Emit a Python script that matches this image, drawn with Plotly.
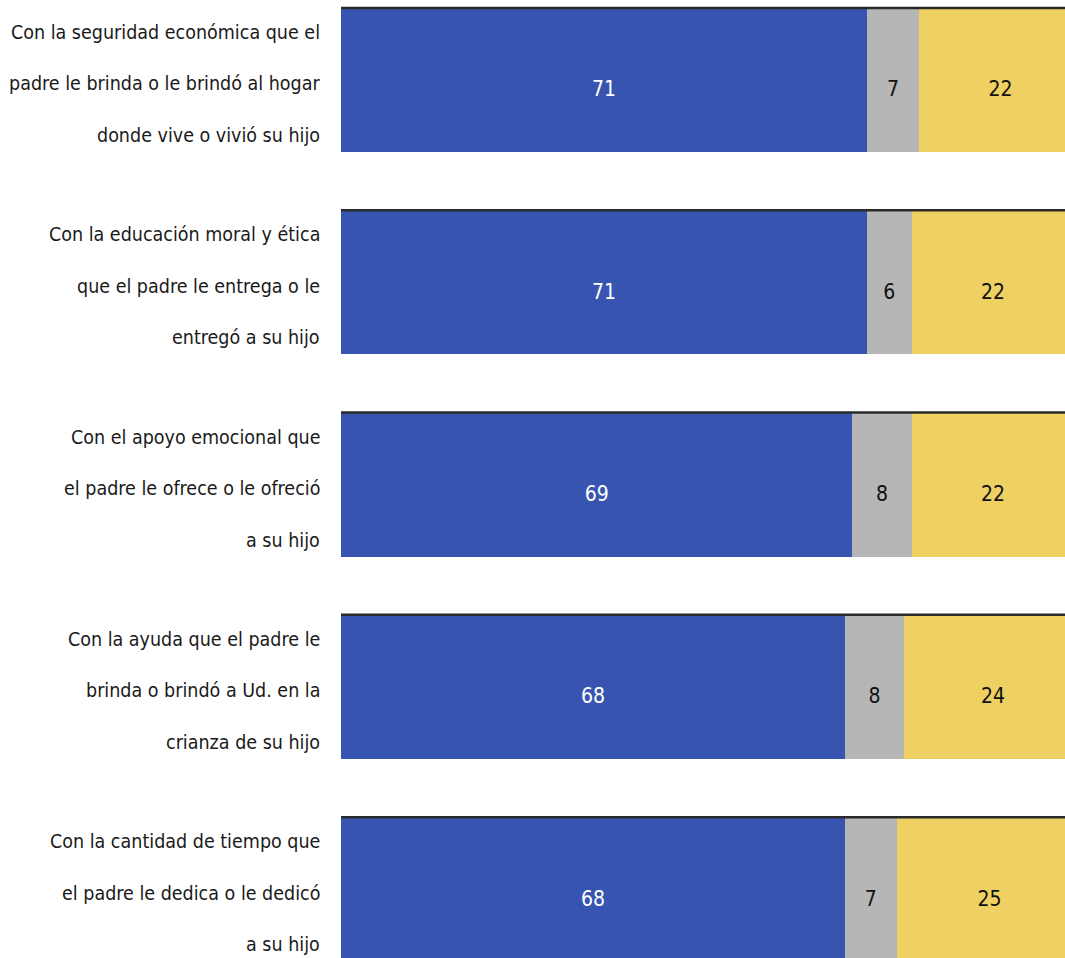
import plotly.graph_objects as go

# Survey items (top to bottom) and the share of answers per group
items = [
    ["Con la seguridad económica que el", "padre le brinda o le brindó al hogar", "donde vive o vivió su hijo"],
    ["Con la educación moral y ética", "que el padre le entrega o le", "entregó a su hijo"],
    ["Con el apoyo emocional que", "el padre le ofrece o le ofreció", "a su hijo"],
    ["Con la ayuda que el padre le", "brinda o brindó a Ud. en la", "crianza de su hijo"],
    ["Con la cantidad de tiempo que", "el padre le dedica o le dedicó", "a su hijo"],
]
satisfied = [71, 71, 69, 68, 68]
no_answer = [7, 6, 8, 8, 7]
unsatisfied = [22, 22, 22, 24, 25]

FONT = "DejaVu Sans Condensed, Liberation Sans Narrow, Arial Narrow, sans-serif"
BAR_WIDTH = 0.712
TEXT_DROP = 0.055   # value labels sit slightly below the bar centre
pos = list(range(len(items)))

fig = go.Figure()
series = [
    (satisfied, "#3755B0", "white"),
    (no_answer, "#B6B6B6", "#111111"),
    (unsatisfied, "#EED063", "#111111"),
]
base = [0] * len(pos)
for vals, color, tcolor in series:
    fig.add_trace(go.Bar(
        x=vals, y=pos, orientation="h", width=BAR_WIDTH,
        marker=dict(color=color, line=dict(width=0)),
        hoverinfo="skip", showlegend=False,
    ))
    # value label centred on the segment
    fig.add_trace(go.Scatter(
        x=[b + v / 2 for b, v in zip(base, vals)],
        y=[p + TEXT_DROP for p in pos],
        mode="text", text=[str(v) for v in vals],
        textposition="middle center",
        textfont=dict(family=FONT, size=21, color=tcolor),
        hoverinfo="skip", showlegend=False, cliponaxis=False,
    ))
    base = [b + v for b, v in zip(base, vals)]

# dark rule along the top edge of each bar
lx, ly = [], []
for p in pos:
    lx += [0, 100, None]
    ly += [p - BAR_WIDTH / 2, p - BAR_WIDTH / 2, None]
fig.add_trace(go.Scatter(x=lx, y=ly, mode="lines",
                         line=dict(color="#2a2a2a", width=2.5),
                         hoverinfo="skip", showlegend=False))

# multi-line category labels, right aligned left of the bars
annotations = []
for p, lines in zip(pos, items):
    for k, line in enumerate(lines):
        annotations.append(dict(
            x=0, xref="paper", xanchor="right", xshift=-19,
            y=p + 0.02 + (k - 1) * 0.255, yref="y", yanchor="middle",
            text=line, showarrow=False,
            font=dict(family=FONT, size=19.5, color="#1a1a1a"),
        ))

fig.update_layout(
    barmode="stack",
    width=1065, height=958,
    margin=dict(l=341, r=0, t=0, b=0),
    paper_bgcolor="white", plot_bgcolor="white",
    annotations=annotations,
    xaxis=dict(range=[0, 97.7], visible=False, fixedrange=True),
    yaxis=dict(range=[4.34, -0.395], visible=False, fixedrange=True),
)

fig.write_html("out.html")
